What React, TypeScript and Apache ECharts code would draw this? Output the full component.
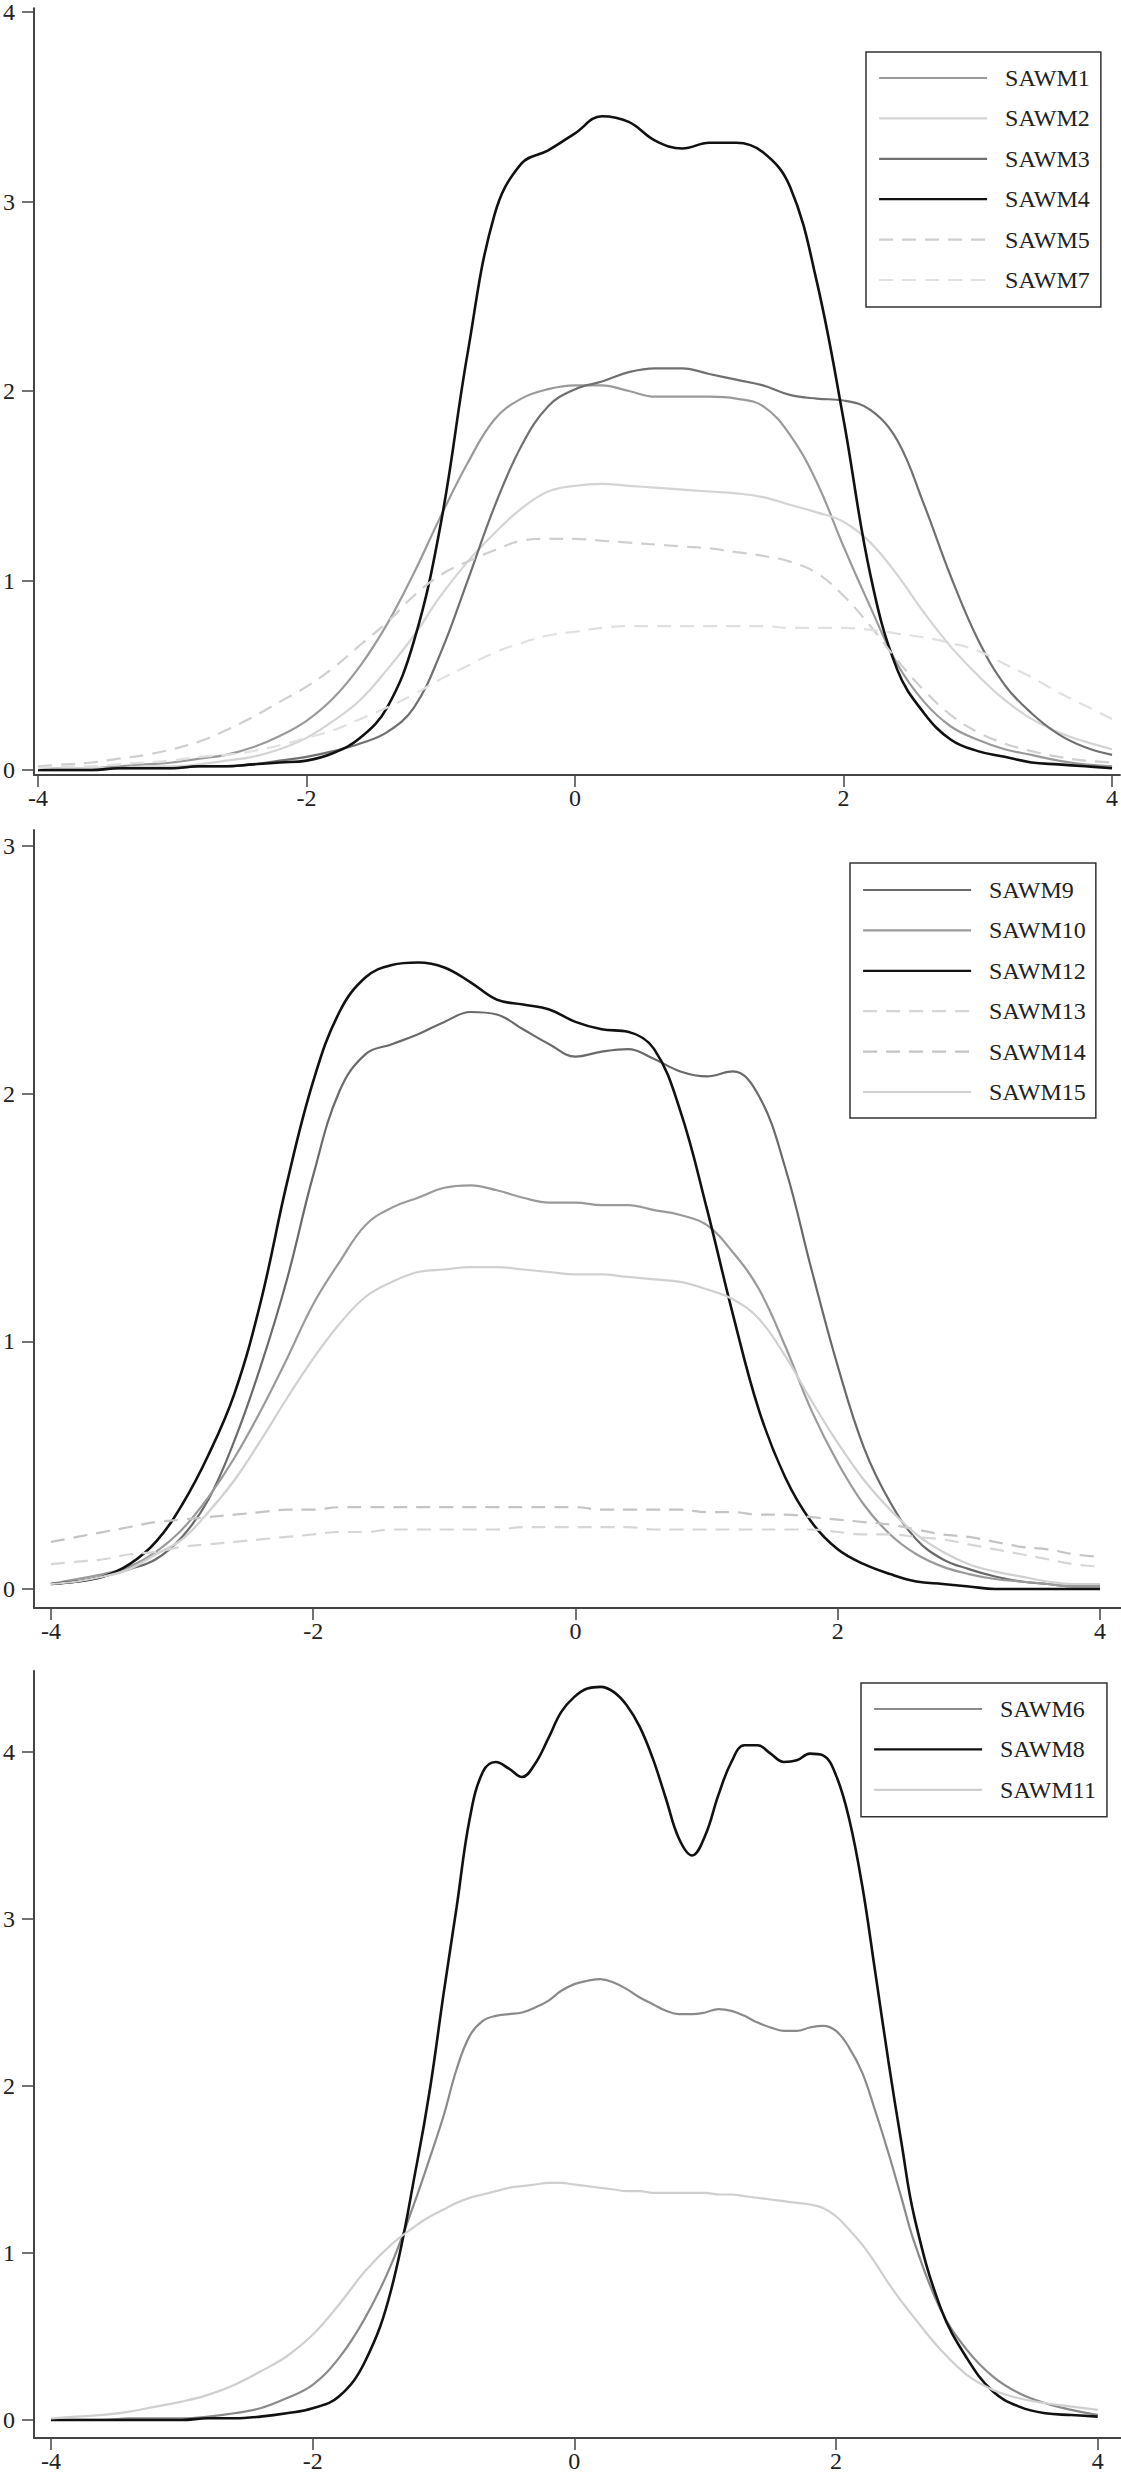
import React, { useEffect, useRef } from "react";
import * as echarts from "echarts";

// ---------- data ----------
const X_GRID = [
  -4, -3.8, -3.6, -3.4, -3.2, -3, -2.8, -2.6, -2.4, -2.2,
  -2, -1.8, -1.6, -1.4, -1.2, -1, -0.8, -0.6, -0.4, -0.2,
  0, 0.2, 0.4, 0.6, 0.8, 1, 1.2, 1.4, 1.6, 1.8,
  2, 2.2, 2.4, 2.6, 2.8, 3, 3.2, 3.4, 3.6, 3.8, 4,
];

const X_BOTTOM = [
  -4, -3.8, -3.6, -3.4, -3.2, -3, -2.8, -2.6, -2.4, -2.2, -2, -1.8, -1.6, -1.4, -1.2,
  -1.1, -1, -0.9, -0.8, -0.7, -0.6, -0.5, -0.4, -0.3, -0.2,
  -0.1, 0, 0.1, 0.2, 0.3, 0.4, 0.5, 0.6, 0.7, 0.8,
  0.9, 1, 1.1, 1.2, 1.3, 1.4, 1.5, 1.6, 1.7, 1.8,
  1.9, 2, 2.1, 2.2, 2.3, 2.4, 2.5, 2.6,
  2.8, 3, 3.2, 3.4, 3.6, 3.8, 4,
];

const X_TICKS = [-4, -2, 0, 2, 4];
const Y_TICKS_TOP = [0, 1, 2, 3, 4];
const Y_TICKS_MID = [0, 1, 2, 3];
const Y_TICKS_BOT = [0, 1, 2, 3, 4];

// top panel
const SAWM1 = [0.00, 0.01, 0.01, 0.02, 0.03, 0.04, 0.06, 0.08, 0.12, 0.18, 0.26, 0.38, 0.55, 0.77, 1.04, 1.34, 1.62, 1.85, 1.96, 2.01, 2.03, 2.03, 2.00, 1.97, 1.97, 1.97, 1.96, 1.92, 1.77, 1.52, 1.18, 0.86, 0.56, 0.36, 0.23, 0.16, 0.11, 0.08, 0.05, 0.03, 0.02];
const SAWM2 = [0.00, 0.01, 0.01, 0.01, 0.02, 0.02, 0.03, 0.05, 0.07, 0.11, 0.17, 0.26, 0.37, 0.53, 0.71, 0.92, 1.10, 1.25, 1.38, 1.47, 1.50, 1.51, 1.50, 1.49, 1.48, 1.47, 1.46, 1.44, 1.40, 1.36, 1.31, 1.20, 1.03, 0.83, 0.65, 0.50, 0.37, 0.27, 0.20, 0.15, 0.11];
const SAWM3 = [0.00, 0.00, 0.00, 0.01, 0.01, 0.01, 0.02, 0.02, 0.03, 0.05, 0.07, 0.10, 0.14, 0.20, 0.33, 0.62, 1.00, 1.39, 1.71, 1.92, 2.01, 2.05, 2.10, 2.12, 2.12, 2.09, 2.06, 2.03, 1.98, 1.96, 1.95, 1.90, 1.74, 1.40, 1.02, 0.69, 0.45, 0.30, 0.19, 0.12, 0.08];
const SAWM4 = [0.00, 0.00, 0.00, 0.01, 0.01, 0.01, 0.02, 0.02, 0.03, 0.04, 0.05, 0.09, 0.17, 0.33, 0.68, 1.30, 2.20, 2.93, 3.20, 3.27, 3.36, 3.45, 3.42, 3.32, 3.28, 3.31, 3.31, 3.26, 3.08, 2.58, 1.85, 1.03, 0.53, 0.30, 0.16, 0.10, 0.07, 0.04, 0.03, 0.02, 0.01];
const SAWM5 = [0.02, 0.03, 0.04, 0.06, 0.08, 0.11, 0.15, 0.21, 0.28, 0.36, 0.44, 0.54, 0.66, 0.78, 0.92, 1.03, 1.10, 1.16, 1.21, 1.22, 1.22, 1.21, 1.20, 1.19, 1.18, 1.17, 1.15, 1.13, 1.10, 1.04, 0.92, 0.76, 0.58, 0.42, 0.29, 0.20, 0.14, 0.10, 0.07, 0.05, 0.04];
const SAWM7 = [0.01, 0.02, 0.02, 0.03, 0.04, 0.05, 0.07, 0.08, 0.10, 0.13, 0.17, 0.21, 0.27, 0.33, 0.40, 0.48, 0.55, 0.62, 0.67, 0.71, 0.73, 0.75, 0.76, 0.76, 0.76, 0.76, 0.76, 0.76, 0.75, 0.75, 0.75, 0.74, 0.72, 0.70, 0.67, 0.63, 0.56, 0.49, 0.41, 0.34, 0.27];

// middle panel
const SAWM9 = [0.02, 0.03, 0.05, 0.08, 0.12, 0.21, 0.36, 0.60, 0.90, 1.25, 1.67, 2.01, 2.16, 2.20, 2.24, 2.29, 2.33, 2.32, 2.26, 2.20, 2.15, 2.17, 2.18, 2.14, 2.09, 2.07, 2.09, 1.99, 1.70, 1.29, 0.90, 0.57, 0.35, 0.20, 0.12, 0.08, 0.05, 0.03, 0.02, 0.01, 0.01];
const SAWM10 = [0.02, 0.04, 0.06, 0.09, 0.15, 0.24, 0.37, 0.53, 0.72, 0.93, 1.15, 1.32, 1.47, 1.54, 1.58, 1.62, 1.63, 1.61, 1.58, 1.56, 1.56, 1.55, 1.55, 1.53, 1.51, 1.47, 1.36, 1.21, 0.98, 0.72, 0.51, 0.34, 0.22, 0.14, 0.09, 0.06, 0.04, 0.03, 0.02, 0.01, 0.01];
const SAWM12 = [0.02, 0.03, 0.05, 0.10, 0.19, 0.34, 0.54, 0.79, 1.16, 1.64, 2.05, 2.33, 2.47, 2.52, 2.53, 2.51, 2.45, 2.38, 2.36, 2.34, 2.29, 2.26, 2.25, 2.18, 1.93, 1.54, 1.11, 0.72, 0.45, 0.27, 0.16, 0.10, 0.06, 0.03, 0.02, 0.01, 0.00, 0.00, 0.00, 0.00, 0.00];
const SAWM13 = [0.10, 0.11, 0.12, 0.14, 0.15, 0.17, 0.18, 0.19, 0.20, 0.21, 0.22, 0.23, 0.23, 0.24, 0.24, 0.24, 0.24, 0.24, 0.25, 0.25, 0.25, 0.25, 0.25, 0.24, 0.24, 0.24, 0.24, 0.24, 0.24, 0.24, 0.23, 0.22, 0.22, 0.21, 0.20, 0.18, 0.16, 0.14, 0.12, 0.10, 0.09];
const SAWM14 = [0.19, 0.21, 0.23, 0.25, 0.27, 0.28, 0.29, 0.30, 0.31, 0.32, 0.32, 0.33, 0.33, 0.33, 0.33, 0.33, 0.33, 0.33, 0.33, 0.33, 0.33, 0.32, 0.32, 0.32, 0.32, 0.31, 0.31, 0.30, 0.30, 0.29, 0.28, 0.27, 0.26, 0.24, 0.22, 0.21, 0.19, 0.17, 0.16, 0.14, 0.13];
const SAWM15 = [0.02, 0.03, 0.05, 0.08, 0.14, 0.20, 0.31, 0.44, 0.60, 0.77, 0.93, 1.07, 1.18, 1.24, 1.28, 1.29, 1.30, 1.30, 1.29, 1.28, 1.27, 1.27, 1.26, 1.25, 1.24, 1.21, 1.17, 1.09, 0.94, 0.76, 0.59, 0.44, 0.32, 0.22, 0.15, 0.10, 0.07, 0.05, 0.03, 0.02, 0.02];

// bottom panel (on X_BOTTOM)
const SAWM6 = [
  0.00, 0.00, 0.00, 0.01, 0.01, 0.01, 0.02, 0.04, 0.07, 0.13, 0.21, 0.37, 0.61, 0.93, 1.35,
  1.58, 1.82, 2.10, 2.30, 2.39, 2.42, 2.43, 2.44, 2.47, 2.51,
  2.57, 2.61, 2.63, 2.64, 2.62, 2.58, 2.53, 2.49, 2.45, 2.43,
  2.43, 2.44, 2.46, 2.45, 2.42, 2.38, 2.35, 2.33, 2.33, 2.35,
  2.36, 2.33, 2.23, 2.08, 1.85, 1.60, 1.33, 1.06,
  0.66, 0.42, 0.26, 0.16, 0.10, 0.06, 0.03,
];
const SAWM8 = [
  0.00, 0.00, 0.00, 0.00, 0.00, 0.00, 0.01, 0.01, 0.02, 0.04, 0.07, 0.14, 0.35, 0.78, 1.55,
  2.00, 2.55, 3.07, 3.60, 3.88, 3.94, 3.90, 3.85, 3.93, 4.08,
  4.24, 4.33, 4.38, 4.39, 4.36, 4.28, 4.15, 3.96, 3.72, 3.48,
  3.38, 3.50, 3.74, 3.94, 4.04, 4.04, 3.99, 3.94, 3.95, 3.99,
  3.98, 3.86, 3.60, 3.20, 2.68, 2.15, 1.66, 1.21,
  0.67, 0.37, 0.17, 0.08, 0.04, 0.03, 0.02,
];
const SAWM11 = [
  0.01, 0.02, 0.03, 0.05, 0.08, 0.11, 0.15, 0.21, 0.29, 0.38, 0.51, 0.69, 0.89, 1.05, 1.17,
  1.22, 1.26, 1.30, 1.33, 1.35, 1.37, 1.39, 1.40, 1.41, 1.42,
  1.42, 1.41, 1.40, 1.39, 1.38, 1.37, 1.37, 1.36, 1.36, 1.36,
  1.36, 1.36, 1.35, 1.35, 1.34, 1.33, 1.32, 1.31, 1.30, 1.29,
  1.27, 1.22, 1.14, 1.05, 0.94, 0.82, 0.71, 0.61,
  0.42, 0.27, 0.18, 0.13, 0.10, 0.08, 0.06,
];

const LEGEND_TOP = ["SAWM1", "SAWM2", "SAWM3", "SAWM4", "SAWM5", "SAWM7"];
const LEGEND_MID = ["SAWM9", "SAWM10", "SAWM12", "SAWM13", "SAWM14", "SAWM15"];
const LEGEND_BOT = ["SAWM6", "SAWM8", "SAWM11"];

// ---------- styling helpers ----------
const FONT = "Liberation Serif";
const AXIS_COLOR = "#444";

function xAxisCfg(gridIndex: number, min: number, max: number) {
  return {
    type: "value",
    gridIndex,
    min,
    max,
    axisLine: { show: true, onZero: false, lineStyle: { color: AXIS_COLOR, width: 2 } },
    axisTick: { show: true, length: 12, customValues: X_TICKS, lineStyle: { color: AXIS_COLOR, width: 1.5 } },
    axisLabel: {
      customValues: X_TICKS,
      margin: 11,
      fontFamily: FONT,
      fontSize: 24,
      color: "#222",
      formatter: (v: number) => String(v),
    },
    splitLine: { show: false },
  };
}

function yAxisCfg(gridIndex: number, min: number, max: number, ticks: number[]) {
  return {
    type: "value",
    gridIndex,
    min,
    max,
    axisLine: { show: true, onZero: false, lineStyle: { color: AXIS_COLOR, width: 2 } },
    axisTick: { show: true, length: 12, customValues: ticks, lineStyle: { color: AXIS_COLOR, width: 1.5 } },
    axisLabel: {
      customValues: ticks,
      margin: 19,
      fontFamily: FONT,
      fontSize: 24,
      color: "#222",
      formatter: (v: number) => String(v),
    },
    splitLine: { show: false },
  };
}

function lineSeries(
  name: string,
  xs: number[],
  ys: number[],
  color: string,
  width: number,
  dashed: boolean,
  gi: number
) {
  return {
    type: "line",
    name,
    xAxisIndex: gi,
    yAxisIndex: gi,
    data: xs.map((x, i) => [x, ys[i]]),
    symbol: "none",
    smooth: 0.4,
    silent: true,
    lineStyle: { color, width, type: dashed ? [14, 9] : "solid" },
    itemStyle: { color },
  };
}

function legendCfg(data: string[], left: number, top: number, padding: number[]) {
  return {
    data,
    left,
    top,
    orient: "vertical",
    selectedMode: false,
    itemWidth: 108,
    itemHeight: 24,
    itemGap: 16.4,
    padding,
    borderColor: "#333",
    borderWidth: 1.5,
    backgroundColor: "#fff",
    itemStyle: { opacity: 0 },
    lineStyle: { width: 2.2 },
    textStyle: { fontFamily: FONT, fontSize: 24, color: "#222", padding: [0, 0, 0, 13] },
  };
}

export default function App() {
  const ref = useRef<HTMLDivElement>(null);

  useEffect(() => {
    if (!ref.current) return;
    const chart = echarts.init(ref.current, null, { renderer: "svg" });
    const option = {
      animation: false,
      backgroundColor: "#fff",
      textStyle: { fontFamily: FONT },
      grid: [
        { left: 29, top: 2, width: 1092, height: 773 },
        { left: 31, top: 830, width: 1090, height: 778 },
        { left: 31, top: 1671, width: 1090, height: 767 },
      ],
      xAxis: [
        xAxisCfg(0, -4.03, 4.059),
        xAxisCfg(1, -4.129, 4.16),
        xAxisCfg(2, -4.13, 4.178),
      ],
      yAxis: [
        yAxisCfg(0, -0.026, 4.02, Y_TICKS_TOP),
        yAxisCfg(1, -0.077, 3.065, Y_TICKS_MID),
        yAxisCfg(2, -0.108, 4.485, Y_TICKS_BOT),
      ],
      legend: [
        legendCfg(LEGEND_TOP, 866, 52, [14, 11, 15, 12]),
        legendCfg(LEGEND_MID, 850, 863, [15, 10, 14, 12]),
        legendCfg(LEGEND_BOT, 861, 1683, [14, 11, 15, 12]),
      ],
      series: [
        lineSeries("SAWM1", X_GRID, SAWM1, "#9a9a9a", 2.2, false, 0),
        lineSeries("SAWM2", X_GRID, SAWM2, "#d4d4d4", 2.2, false, 0),
        lineSeries("SAWM3", X_GRID, SAWM3, "#707070", 2.2, false, 0),
        lineSeries("SAWM4", X_GRID, SAWM4, "#111111", 2.6, false, 0),
        lineSeries("SAWM5", X_GRID, SAWM5, "#cfcfcf", 2.2, true, 0),
        lineSeries("SAWM7", X_GRID, SAWM7, "#e0e0e0", 2.2, true, 0),

        lineSeries("SAWM9", X_GRID, SAWM9, "#6a6a6a", 2.2, false, 1),
        lineSeries("SAWM10", X_GRID, SAWM10, "#9a9a9a", 2.2, false, 1),
        lineSeries("SAWM12", X_GRID, SAWM12, "#111111", 2.6, false, 1),
        lineSeries("SAWM13", X_GRID, SAWM13, "#d6d6d6", 2.2, true, 1),
        lineSeries("SAWM14", X_GRID, SAWM14, "#c4c4c4", 2.2, true, 1),
        lineSeries("SAWM15", X_GRID, SAWM15, "#d0d0d0", 2.2, false, 1),

        lineSeries("SAWM6", X_BOTTOM, SAWM6, "#8a8a8a", 2.2, false, 2),
        lineSeries("SAWM8", X_BOTTOM, SAWM8, "#111111", 2.6, false, 2),
        lineSeries("SAWM11", X_BOTTOM, SAWM11, "#cfcfcf", 2.2, false, 2),
      ],
    };
    chart.setOption(option as any);
    return () => chart.dispose();
  }, []);

  return (
    <div
      ref={ref}
      style={{ position: "absolute", left: 0, top: 0, width: 1121, height: 2480, background: "#fff" }}
    />
  );
}
